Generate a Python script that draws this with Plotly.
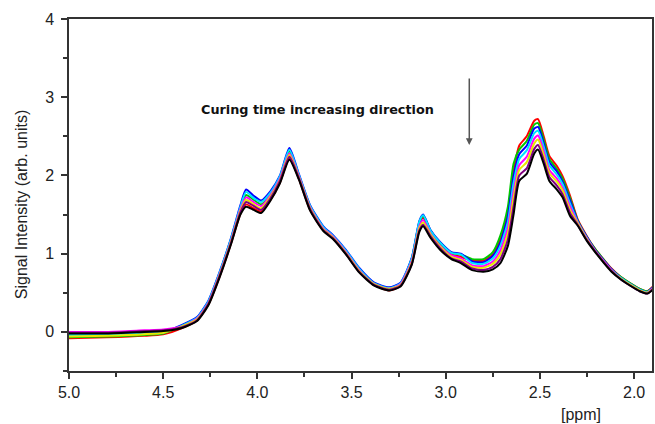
import plotly.graph_objects as go

ppm = [5.00, 4.80, 4.60, 4.50, 4.40, 4.32, 4.26, 4.20, 4.14, 4.09, 4.06, 4.02, 3.98, 3.93, 3.88,
       3.83, 3.78, 3.72, 3.65, 3.60, 3.53, 3.46, 3.38, 3.30, 3.24, 3.18, 3.14, 3.12, 3.08, 3.03,
       2.97, 2.92, 2.86, 2.80, 2.75, 2.71, 2.67, 2.64, 2.61, 2.57, 2.53, 2.51, 2.48, 2.45, 2.41,
       2.38, 2.34, 2.30, 2.25, 2.21, 2.16, 2.12, 2.07, 2.02, 1.97, 1.93, 1.90]

red = [-0.08, -0.07, -0.05, -0.03, 0.05, 0.15, 0.35, 0.71, 1.13, 1.51, 1.63, 1.58, 1.54, 1.69, 1.91,
       2.22, 1.96, 1.56, 1.30, 1.20, 1.00, 0.77, 0.60, 0.53, 0.59, 0.92, 1.38, 1.46, 1.27, 1.12,
       0.99, 0.96, 0.91, 0.91, 0.99, 1.18, 1.52, 2.05, 2.38, 2.50, 2.70, 2.72, 2.50, 2.25, 2.12,
       1.99, 1.74, 1.44, 1.22, 1.07, 0.92, 0.81, 0.70, 0.62, 0.55, 0.52, 0.58]
green = [-0.07, -0.06, -0.04, -0.02, 0.08, 0.18, 0.38, 0.75, 1.18, 1.58, 1.75, 1.69, 1.63, 1.76, 1.97,
         2.31, 2.00, 1.60, 1.33, 1.23, 1.03, 0.80, 0.62, 0.56, 0.61, 0.94, 1.40, 1.48, 1.29, 1.14,
         1.01, 0.99, 0.93, 0.93, 1.02, 1.23, 1.60, 2.15, 2.33, 2.44, 2.65, 2.67, 2.46, 2.21, 2.08,
         1.96, 1.71, 1.43, 1.21, 1.07, 0.92, 0.80, 0.70, 0.62, 0.55, 0.52, 0.57]
blue = [-0.04, -0.03, -0.01, 0.00, 0.09, 0.19, 0.40, 0.77, 1.20, 1.62, 1.82, 1.74, 1.68, 1.80, 2.00,
        2.35, 2.02, 1.62, 1.35, 1.24, 1.05, 0.82, 0.63, 0.57, 0.63, 0.95, 1.42, 1.50, 1.30, 1.15,
        1.02, 1.00, 0.90, 0.89, 0.97, 1.14, 1.48, 1.99, 2.27, 2.38, 2.60, 2.62, 2.41, 2.17, 2.05,
        1.92, 1.68, 1.42, 1.21, 1.06, 0.91, 0.80, 0.69, 0.61, 0.54, 0.51, 0.57]
cyan = [-0.04, -0.04, -0.02, -0.01, 0.08, 0.18, 0.39, 0.76, 1.19, 1.60, 1.79, 1.71, 1.66, 1.78, 1.99,
        2.33, 2.01, 1.61, 1.34, 1.23, 1.04, 0.81, 0.62, 0.56, 0.62, 0.94, 1.41, 1.49, 1.29, 1.14,
        1.01, 0.99, 0.88, 0.87, 0.94, 1.10, 1.41, 1.90, 2.21, 2.32, 2.54, 2.57, 2.37, 2.13, 2.01,
        1.89, 1.64, 1.41, 1.20, 1.05, 0.90, 0.79, 0.69, 0.61, 0.54, 0.51, 0.56]
magenta = [0.00, 0.00, 0.02, 0.03, 0.07, 0.17, 0.37, 0.74, 1.16, 1.57, 1.72, 1.66, 1.61, 1.75, 1.96,
           2.28, 1.99, 1.59, 1.32, 1.22, 1.02, 0.79, 0.61, 0.55, 0.61, 0.91, 1.35, 1.43, 1.25, 1.10,
           0.98, 0.94, 0.85, 0.84, 0.90, 1.04, 1.33, 1.79, 2.13, 2.24, 2.47, 2.51, 2.31, 2.07, 1.96,
           1.84, 1.60, 1.40, 1.19, 1.05, 0.90, 0.79, 0.68, 0.60, 0.53, 0.50, 0.56]
yellow = [-0.06, -0.05, -0.03, -0.01, 0.07, 0.16, 0.36, 0.73, 1.15, 1.55, 1.69, 1.63, 1.58, 1.73, 1.94,
          2.26, 1.98, 1.58, 1.31, 1.21, 1.01, 0.78, 0.61, 0.55, 0.60, 0.89, 1.33, 1.40, 1.24, 1.09,
          0.96, 0.92, 0.83, 0.82, 0.87, 0.99, 1.26, 1.71, 2.07, 2.17, 2.41, 2.46, 2.26, 2.03, 1.92,
          1.81, 1.56, 1.39, 1.18, 1.04, 0.89, 0.78, 0.68, 0.60, 0.53, 0.50, 0.55]
purple = [-0.01, -0.01, 0.01, 0.02, 0.06, 0.15, 0.36, 0.72, 1.14, 1.53, 1.66, 1.61, 1.56, 1.71, 1.93,
          2.24, 1.97, 1.57, 1.30, 1.20, 1.00, 0.77, 0.60, 0.54, 0.59, 0.87, 1.30, 1.37, 1.22, 1.07,
          0.94, 0.90, 0.81, 0.79, 0.83, 0.93, 1.18, 1.60, 2.00, 2.09, 2.34, 2.39, 2.20, 1.98, 1.87,
          1.76, 1.52, 1.37, 1.17, 1.04, 0.89, 0.78, 0.67, 0.59, 0.52, 0.49, 0.55]
black = [-0.02, -0.02, 0.00, 0.01, 0.05, 0.14, 0.34, 0.70, 1.12, 1.50, 1.60, 1.56, 1.52, 1.68, 1.90,
         2.20, 1.95, 1.55, 1.29, 1.19, 0.99, 0.76, 0.59, 0.53, 0.58, 0.86, 1.28, 1.35, 1.20, 1.05,
         0.93, 0.88, 0.79, 0.77, 0.80, 0.88, 1.10, 1.50, 1.93, 2.02, 2.28, 2.33, 2.15, 1.93, 1.82,
         1.72, 1.48, 1.36, 1.16, 1.03, 0.88, 0.77, 0.67, 0.59, 0.52, 0.49, 0.54]

series = [
    ("t1", red, "#ff0000"),
    ("t2", green, "#00c800"),
    ("t3", blue, "#0000ff"),
    ("t4", cyan, "#00e5ff"),
    ("t5", magenta, "#ff00ff"),
    ("t6", yellow, "#e8e800"),
    ("t7", purple, "#800080"),
    ("t8", black, "#000000"),
]

x_ticks = [5.0, 4.5, 4.0, 3.5, 3.0, 2.5, 2.0]
x_tick_text = ["5.0", "4.5", "4.0", "3.5", "3.0", "2.5", "2.0"]
y_ticks = [0, 1, 2, 3, 4]

fig = go.Figure()
for name, vals, col in series:
    fig.add_trace(go.Scatter(x=ppm, y=vals, mode="lines", name=name,
                             line=dict(color=col, width=2, shape="spline", smoothing=0.6)))

font = "Liberation Sans, Arial, sans-serif"
fig.update_layout(
    width=655, height=424,
    margin=dict(l=69, r=1, t=19, b=53),
    paper_bgcolor="white", plot_bgcolor="white",
    showlegend=False,
    font=dict(family=font, size=16, color="#222"),
    xaxis=dict(range=[5.0, 1.905], tickvals=x_ticks, ticktext=x_tick_text,
               showgrid=False, zeroline=False, showline=True, mirror=True,
               linecolor="#333", linewidth=1.5, ticks="outside", ticklen=6,
               tickcolor="#333", tickwidth=1.5,
               minor=dict(dtick=0.25, tick0=0, ticks="outside", ticklen=4,
                          tickcolor="#333", tickwidth=1.5)),
    yaxis=dict(range=[-0.5, 4.0], tickvals=y_ticks,
               showgrid=False, zeroline=False, showline=True, mirror=True,
               linecolor="#333", linewidth=1.5, ticks="outside", ticklen=6,
               tickcolor="#333", tickwidth=1.5, ticklabelstandoff=4,
               minor=dict(dtick=0.5, tick0=0, ticks="outside", ticklen=4,
                          tickcolor="#333", tickwidth=1.5)),
)

fig.add_annotation(text="Signal Intensity (arb. units)", textangle=-90,
                   xref="paper", yref="paper", x=(22 - 69) / 585, y=(371 - 205) / 352,
                   xanchor="center", yanchor="middle",
                   showarrow=False, font=dict(family=font, size=16, color="#222"))
fig.add_annotation(text="[ppm]", xref="paper", yref="paper",
                   x=(583 - 69) / 585, y=(371 - 414) / 352,
                   xanchor="center", yanchor="middle",
                   showarrow=False, font=dict(family=font, size=16, color="#222"))
fig.add_annotation(text="<b>Curing time increasing direction</b>", xref="x", yref="y",
                   x=3.679, y=2.84, showarrow=False, xanchor="center", yanchor="middle",
                   font=dict(family="DejaVu Sans, sans-serif", size=12.8, color="#111"))
fig.add_annotation(text="", xref="x", yref="y", axref="x", ayref="y",
                   x=2.875, y=2.39, ax=2.875, ay=3.26, showarrow=True,
                   arrowhead=2, arrowsize=0.9, arrowwidth=1.5, arrowcolor="#555")

fig.write_html("out.html", config={"displayModeBar": False},
               post_script="document.body.style.margin='0';document.body.style.overflow='hidden';")
